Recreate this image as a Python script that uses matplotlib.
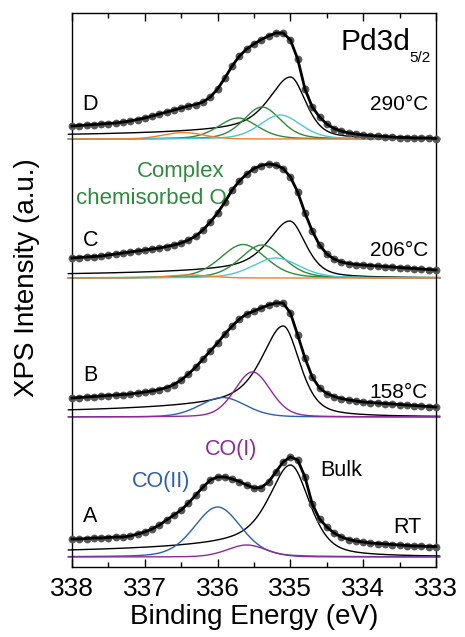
import numpy as np
import matplotlib
matplotlib.use("Agg")
import matplotlib.pyplot as plt
from matplotlib.ticker import MultipleLocator

plt.rcParams['font.family'] = ['Liberation Sans', 'DejaVu Sans']

# ---------------- data ----------------
energy = np.round(np.arange(338.0, 332.95, -0.1), 2)   # binding energy grid (eV)

# measured spectra (arbitrary units, offsets included)
spec_A = [28, 28, 28.5, 29, 29, 29.5, 30, 30, 31, 33, 35, 38, 42, 47, 52, 57, 64, 72, 80, 87,
          90, 90, 88, 85.5, 82, 79, 79.5, 85, 95, 105, 110, 107, 90, 63, 48, 40, 34, 30, 27.5, 26,
          25, 24, 23.5, 23, 22.5, 22, 21.5, 21, 21, 20.5, 20.5]
spec_B = [169, 169.5, 170, 170.5, 171, 171.5, 172, 172.5, 173, 174, 175, 176, 177.5, 179.5, 182.5,
          187, 193, 200, 208, 216, 224, 233, 241, 248, 253, 256, 259, 262, 264, 264, 254, 232, 209,
          190, 179, 173.5, 170.5, 168.5, 167, 166, 165, 164.5, 164, 163.5, 163, 162.5, 162, 161.5,
          161, 160.5, 160]
spec_C = [309, 309.5, 310, 310.5, 311, 312, 313, 314, 315, 316, 317, 318, 319, 320.5, 322, 324,
          327, 331, 337, 345, 354, 365, 377, 386, 393, 398.5, 401.5, 403, 402, 398.5, 390, 375,
          354, 336, 322, 313, 308, 305, 303.5, 302.5, 302, 301.5, 301, 300.5, 300, 299.5, 299,
          298.5, 298, 297.5, 297]
spec_D = [441, 441.5, 442, 442.5, 443, 443.5, 444, 445, 446, 447.5, 449, 451, 453, 455, 457, 459,
          461, 462.5, 465, 470, 478, 489, 501, 511, 518, 523, 527.5, 531, 534, 534, 527, 508, 478,
          460, 450, 443, 438.5, 436, 434, 433, 432, 431.5, 431, 430.5, 430, 429.5, 429.5, 429,
          429, 429, 428.5]

# fitted components: baseline, centres, heights, left/right half widths, Lorentz fraction, tail
base_A = 10
cen_A = [335.0, 336.0, 335.6]
hgt_A = [92, 50, 12]
wl_A = [0.33, 0.38, 0.32]
wr_A = [0.31, 0.38, 0.32]
eta_A = [0.5, 0.25, 0.2]
tail_A = [0.25, 0.0, 0.0]
col_A = ['black', '#2b5fb4', '#8e2a98']

base_B = 150
cen_B = [335.1, 335.93, 335.52]
hgt_B = [91, 19.5, 45]
wl_B = [0.33, 0.37, 0.29]
wr_B = [0.27, 0.37, 0.29]
eta_B = [0.5, 0.2, 0.2]
tail_B = [0.25, 0.0, 0.0]
col_B = ['black', '#2b5fb4', '#8e2a98']

base_C = 289
cen_C = [335.01, 335.65, 335.39, 335.2, 336.4]
hgt_C = [57, 33.5, 33, 20, 3]
wl_C = [0.33, 0.37, 0.35, 0.38, 0.35]
wr_C = [0.26, 0.37, 0.35, 0.38, 0.35]
eta_C = [0.5, 0.3, 0.3, 0.3, 0.1]
tail_C = [0.25, 0.0, 0.0, 0.0, 0.0]
col_C = ['black', '#2e8b3e', '#2e8b3e', '#4fc4dc', '#f07f2a']

base_D = 428
cen_D = [335.0, 335.72, 335.39, 335.14, 336.47]
hgt_D = [62, 21, 32, 24, 6.5]
wl_D = [0.33, 0.32, 0.30, 0.33, 0.33]
wr_D = [0.25, 0.32, 0.30, 0.33, 0.33]
eta_D = [0.5, 0.3, 0.3, 0.3, 0.1]
tail_D = [0.25, 0.0, 0.0, 0.0, 0.0]
col_D = ['black', '#2e8b3e', '#2e8b3e', '#4fc4dc', '#f07f2a']

tail_width = 1.2


def peak(E, c, h, wl, wr, eta, tail):
    x = E - c
    w = np.where(x > 0, wl, wr)
    u = (x / w) ** 2
    g = np.exp(-np.log(2) * u)
    l = 1.0 / (1.0 + u)
    core = (1 - eta) * g + eta * l
    t = np.where(x > 0, tail * (1 - g) / (1 + np.abs(x) / tail_width), 0.0)
    return h * (core + t)


# ---------------- figure ----------------
W, H = 465, 637
fig = plt.figure(figsize=(W / 100, H / 100), dpi=100)
ax = fig.add_axes([72 / W, (H - 567) / H, 364 / W, 554.5 / H])

Efine = np.linspace(338.05, 332.95, 600)
sets = [
    (base_A, cen_A, hgt_A, wl_A, wr_A, eta_A, tail_A, col_A, spec_A),
    (base_B, cen_B, hgt_B, wl_B, wr_B, eta_B, tail_B, col_B, spec_B),
    (base_C, cen_C, hgt_C, wl_C, wr_C, eta_C, tail_C, col_C, spec_C),
    (base_D, cen_D, hgt_D, wl_D, wr_D, eta_D, tail_D, col_D, spec_D),
]
for base, cen, hgt, wl, wr, eta, tl, cols, spec in sets:
    for i in range(len(cen)):
        y = base + peak(Efine, cen[i], hgt[i], wl[i], wr[i], eta[i], tl[i])
        ax.plot(Efine, y, color=cols[i], lw=1.0, zorder=2, clip_on=False)
    ax.plot(energy, spec, 'o', color='#585858', ms=5.6, mec='none', zorder=3, clip_on=False)
    ax.plot(energy, spec, '-', color='black', lw=2.0, zorder=4, clip_on=False)

ax.set_xlim(338, 333)
ax.set_ylim(0, 554.5)
ax.xaxis.set_major_locator(MultipleLocator(1))
ax.xaxis.set_minor_locator(MultipleLocator(0.5))
ax.tick_params(axis='x', which='both', direction='in', top=True, bottom=True,
               labelsize=19, width=1.0, pad=7)
ax.tick_params(axis='x', which='major', length=6)
ax.tick_params(axis='x', which='minor', length=3.5)
ax.tick_params(axis='y', left=False, right=False, labelleft=False)
for s in ax.spines.values():
    s.set_linewidth(1.0)
ax.set_xticks([338, 337, 336, 335, 334, 333])
ax.set_xticklabels(['338', '337', '336', '335', '334', '333'])
ax.set_xlabel('Binding Energy (eV)', fontsize=20, labelpad=2)
fig.text(27 / W, 1 - 278 / H, 'XPS Intensity (a.u.)', rotation=90, fontsize=20,
         ha='center', va='center')

fs = 15.5
ax.text(333.357, 517, 'Pd3d', fontsize=21.5, ha='right', va='baseline')
ax.text(333.37, 505, '5/2', fontsize=11, ha='left', va='baseline')
for lab, v in [('D', 462.5), ('C', 327), ('B', 191.5), ('A', 50)]:
    ax.text(337.75, v, lab, fontsize=fs, ha='center', va='center')
for lab, v in [('290°C', 462.5), ('206°C', 317), ('158°C', 174.5)]:
    ax.text(333.11, v, lab, fontsize=15, ha='right', va='center')
ax.text(333.4, 39.5, 'RT', fontsize=fs, ha='center', va='center')
ax.text(335.9, 390, 'Complex', fontsize=16, color='#2e8b3e', ha='right', va='baseline')
ax.text(335.87, 363, 'chemisorbed O', fontsize=16, color='#2e8b3e', ha='right', va='baseline')
ax.text(335.82, 117, 'CO(I)', fontsize=fs, color='#8e2a98', ha='center', va='center')
ax.text(336.78, 85, 'CO(II)', fontsize=fs, color='#2b5fb4', ha='center', va='center')
ax.text(334.3, 96, 'Bulk', fontsize=fs, ha='center', va='center')

fig.savefig('out.png', dpi=100)
